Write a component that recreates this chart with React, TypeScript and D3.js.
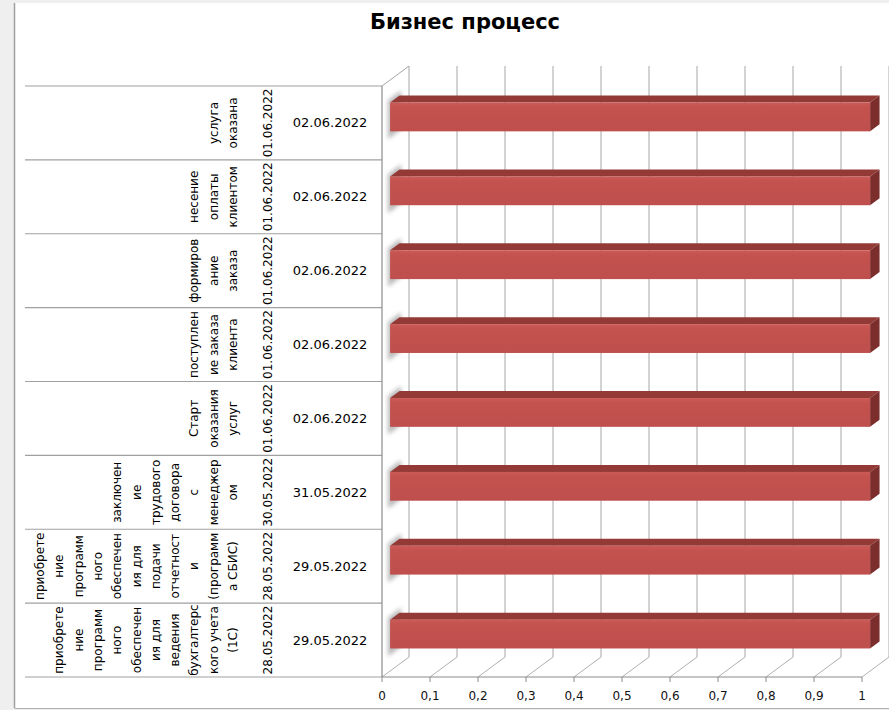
import React from "react";
import * as d3 from "d3";

const title = "Бизнес процесс";
const categoryLines: string[][] = [
  ["услуга", "оказана"],
  ["несение", "оплаты", "клиентом"],
  ["формиров", "ание", "заказа"],
  ["поступлен", "ие заказа", "клиента"],
  ["Старт", "оказания", "услуг"],
  ["заключен", "ие", "трудового", "договора", "с", "менеджер", "ом"],
  ["приобрете", "ние", "программ", "ного", "обеспечен", "ия для", "подачи", "отчетност", "и", "(программ", "а СБИС)"],
  ["приобрете", "ние", "программ", "ного", "обеспечен", "ия для", "ведения", "бухгалтерс", "кого учета", "(1С)"],
];
const startDates = ["01.06.2022", "01.06.2022", "01.06.2022", "01.06.2022", "01.06.2022", "30.05.2022", "28.05.2022", "28.05.2022"];
const endDates = ["02.06.2022", "02.06.2022", "02.06.2022", "02.06.2022", "02.06.2022", "31.05.2022", "29.05.2022", "29.05.2022"];
const values = [1, 1, 1, 1, 1, 1, 1, 1];
const tickValues = [0, 0.1, 0.2, 0.3, 0.4, 0.5, 0.6, 0.7, 0.8, 0.9, 1];

const W = 889;
const H = 710;
const FONT = "'DejaVu Sans', Verdana, sans-serif";

export default function App() {
  const ids = categoryLines.map((_, i) => String(i));
  const x = d3.scaleLinear().domain([0, 1]).range([382, 862]);
  const y = d3.scaleBand<string>().domain(ids).range([86, 677]).paddingInner(0).paddingOuter(0);
  const depthX = 27;
  const depthY = -20;
  const fFront = 0.3;
  const fBack = 0.65;
  const barH = y.bandwidth() * 0.39;
  const tableLeft = 25;
  const lastLineX = 233;
  const lineGap = 19.3;
  const fmt = (v: number) => d3.format("~g")(v).replace(".", ",");

  const boundaries = [...ids.map((id) => y(id) as number), y.range()[1]];

  return (
    <svg width={W} height={H} style={{ position: "absolute", left: 0, top: 0 }} fontFamily={FONT}>
      <defs>
        <filter id="blur" x="-50%" y="-50%" width="200%" height="200%">
          <feGaussianBlur stdDeviation="2" />
        </filter>
        <linearGradient id="frontGrad" x1="0" y1="0" x2="0" y2="1">
          <stop offset="0" stopColor="#cc5a56" />
          <stop offset="0.15" stopColor="#c4524f" />
          <stop offset="1" stopColor="#be4f4c" />
        </linearGradient>
      </defs>
      <rect x={0} y={0} width={W} height={H} fill="#efefef" />
      <rect x={15} y={3} width={W - 15} height={705} fill="#ffffff" />
      <line x1={14.5} y1={3} x2={14.5} y2={708} stroke="#a0a0a0" strokeWidth={1.5} />
      <line x1={14.5} y1={708.5} x2={W} y2={708.5} stroke="#b0b0b0" strokeWidth={1} />

      <text x={465} y={29} textAnchor="middle" fontSize={21} fontWeight="bold" fill="#000">
        {title}
      </text>

      {/* back wall gridlines */}
      {tickValues.map((t) => (
        <line
          key={"g" + t}
          x1={x(t) + depthX}
          x2={x(t) + depthX}
          y1={86 + depthY}
          y2={677 + depthY}
          stroke="#a6a6a6"
          strokeWidth={1}
        />
      ))}
      {/* floor diagonals */}
      {tickValues.map((t) => (
        <line
          key={"f" + t}
          x1={x(t)}
          y1={677}
          x2={x(t) + depthX}
          y2={677 + depthY}
          stroke="#b0b0b0"
          strokeWidth={1}
        />
      ))}
      {/* left wall top diagonal */}
      <line x1={x(0)} y1={86} x2={x(0) + depthX} y2={86 + depthY} stroke="#a6a6a6" strokeWidth={1} />

      {/* table lines */}
      {boundaries.map((b, i) => (
        <line key={"t" + i} x1={tableLeft} x2={x(0)} y1={b} y2={b} stroke="#a0a0a0" strokeWidth={1.2} />
      ))}
      {/* front axes */}
      <line x1={x(0)} x2={x(0)} y1={86} y2={677} stroke="#8c8c8c" strokeWidth={1.2} />
      <line x1={x(0)} x2={x(1)} y1={677} y2={677} stroke="#8c8c8c" strokeWidth={1.2} />
      {tickValues.map((t) => (
        <line key={"k" + t} x1={x(t)} x2={x(t)} y1={677} y2={682} stroke="#8c8c8c" strokeWidth={1} />
      ))}
      {tickValues.map((t) => (
        <text key={"l" + t} x={x(t)} y={700} textAnchor="middle" fontSize={12} fill="#111">
          {fmt(t)}
        </text>
      ))}

      {/* bars */}
      {ids.map((id, i) => {
        const yc = (y(id) as number) + y.bandwidth() / 2;
        const fx = depthX * fFront;
        const fy = depthY * fFront;
        const bx = depthX * fBack;
        const by = depthY * fBack;
        const top = yc - barH / 2 + fy;
        const bot = yc + barH / 2 + fy;
        const x0 = x(0) + fx;
        const x1 = x(values[i]) + fx;
        const ddx = bx - fx;
        const ddy = by - fy;
        return (
          <g key={"b" + id}>
            <polygon
              points={`${x(0) + 6},${top - 2} ${x(0) + 19},${top - 12} ${x(0) + 19},${bot - 2} ${x(0) + 6},${bot + 8}`}
              fill="#8a8a8a"
              opacity={0.6}
              filter="url(#blur)"
            />
            <polygon
              points={`${x0},${top} ${x1},${top} ${x1 + ddx},${top + ddy} ${x0 + ddx},${top + ddy}`}
              fill="#933a37"
            />
            <polygon
              points={`${x1},${top} ${x1 + ddx},${top + ddy} ${x1 + ddx},${bot + ddy} ${x1},${bot}`}
              fill="#7b2e2c"
            />
            <rect x={x0} y={top} width={x1 - x0} height={bot - top} fill="url(#frontGrad)" />
          </g>
        );
      })}

      {/* table texts */}
      {ids.map((id, i) => {
        const yc = (y(id) as number) + y.bandwidth() / 2;
        const lines = categoryLines[i];
        const n = lines.length;
        return (
          <g key={"c" + id} fontSize={12} fill="#000">
            {lines.map((ln, j) => {
              const lx = lastLineX - (n - 1 - j) * lineGap;
              return (
                <text
                  key={j}
                  x={lx}
                  y={yc}
                  transform={`rotate(-90 ${lx} ${yc})`}
                  textAnchor="middle"
                  dominantBaseline="central"
                >
                  {ln}
                </text>
              );
            })}
            <text
              x={268}
              y={yc}
              transform={`rotate(-90 268 ${yc})`}
              textAnchor="middle"
              dominantBaseline="central"
            >
              {startDates[i]}
            </text>
            <text x={330} y={yc} textAnchor="middle" dominantBaseline="central" fontSize={13}>
              {endDates[i]}
            </text>
          </g>
        );
      })}
    </svg>
  );
}
